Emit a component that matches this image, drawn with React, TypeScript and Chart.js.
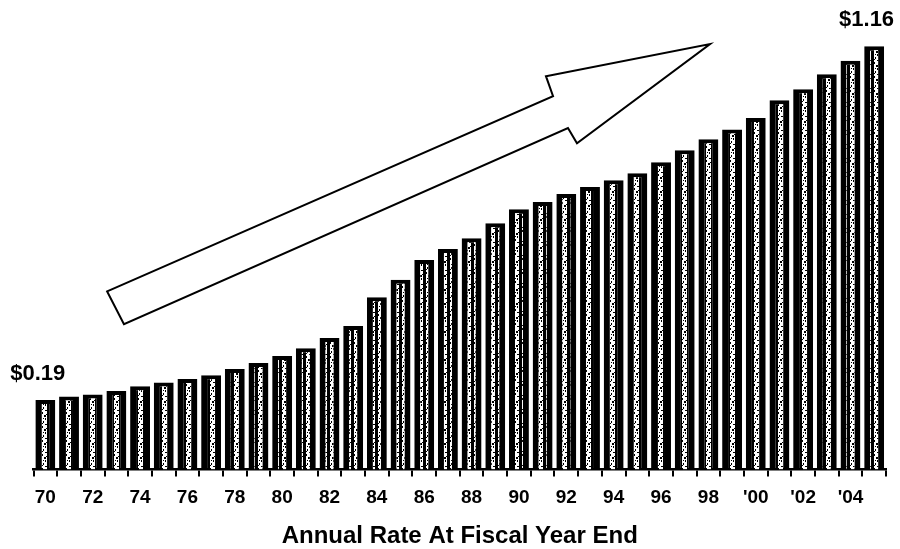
import React, { useEffect, useRef } from "react";
import { Chart, registerables } from "chart.js";

Chart.register(...registerables);

// ---- data ----
const categories: string[] = [
  "70", "71", "72", "73", "74", "75", "76", "77", "78", "79",
  "80", "81", "82", "83", "84", "85", "86", "87", "88", "89",
  "90", "91", "92", "93", "94", "95", "96", "97", "98", "99",
  "'00", "'01", "'02", "'03", "'04", "'05",
];

const rates: number[] = [
  0.19, 0.2, 0.205, 0.215, 0.228, 0.238, 0.248, 0.258, 0.275, 0.292,
  0.311, 0.332, 0.36, 0.393, 0.472, 0.52, 0.574, 0.604, 0.634, 0.675,
  0.713, 0.733, 0.755, 0.774, 0.793, 0.812, 0.842, 0.875, 0.905, 0.932,
  0.963, 1.012, 1.042, 1.083, 1.12, 1.16,
];

const valueLabels: { index: number; text: string }[] = [
  { index: 0, text: "$0.19" },
  { index: 35, text: "$1.16" },
];

const axisTitle = "Annual Rate At Fiscal Year End";

// Decorative arrow outline, in data units: [category index, value]
const arrowShape: [number, number][] = [
  [2.61, 0.488],
  [21.44, 1.023],
  [21.14, 1.078],
  [28.07, 1.166],
  [22.45, 0.894],
  [22.07, 0.936],
  [3.32, 0.398],
];

const Y_MAX = 1.232;

function makeSpecklePattern(): CanvasPattern | string {
  const c = document.createElement("canvas");
  c.width = 8;
  c.height = 14;
  const ctx = c.getContext("2d");
  if (!ctx) return "#ddd";
  ctx.fillStyle = "#ffffff";
  ctx.fillRect(0, 0, 8, 14);
  ctx.fillStyle = "#000000";
  const dots: [number, number, number, number][] = [
    [0, 0, 2, 14], [7, 0, 1, 14],
    [3, 1, 1, 2], [5, 4, 2, 1], [2, 6, 1, 2], [4, 9, 2, 2],
    [3, 12, 1, 1], [5, 12, 1, 2], [2, 3, 1, 1], [6, 8, 1, 1],
  ];
  dots.forEach(([x, y, w, h]) => ctx.fillRect(x, y, w, h));
  const p = ctx.createPattern(c, "repeat");
  return p || "#ddd";
}

const arrowPlugin = {
  id: "arrowDecor",
  afterDatasetsDraw(chart: any) {
    const { ctx, scales } = chart;
    const xs = scales.x;
    const ys = scales.y;
    ctx.save();
    ctx.beginPath();
    arrowShape.forEach(([i, v], k) => {
      const px = xs.getPixelForValue(i);
      const py = ys.getPixelForValue(v);
      if (k === 0) ctx.moveTo(px, py);
      else ctx.lineTo(px, py);
    });
    ctx.closePath();
    ctx.fillStyle = "#ffffff";
    ctx.fill();
    ctx.lineWidth = 2;
    ctx.strokeStyle = "#000000";
    ctx.lineJoin = "miter";
    ctx.stroke();
    ctx.restore();
  },
};

const valueLabelPlugin = {
  id: "valueLabels",
  afterDraw(chart: any) {
    const { ctx } = chart;
    const meta = chart.getDatasetMeta(0);
    ctx.save();
    ctx.font = 'bold 22px "Liberation Sans", Arial, sans-serif';
    ctx.fillStyle = "#000000";
    ctx.textAlign = "right";
    ctx.textBaseline = "bottom";
    valueLabels.forEach(({ index, text }) => {
      const bar = meta.data[index];
      if (!bar) return;
      const props = bar.getProps(["x", "y", "width"], true);
      ctx.fillText(text, props.x + props.width / 2 + 10, props.y - 15);
    });
    ctx.restore();
  },
};

export default function App() {
  const canvasRef = useRef<HTMLCanvasElement | null>(null);

  useEffect(() => {
    const canvas = canvasRef.current;
    if (!canvas) return;
    const pattern = makeSpecklePattern();
    const chart = new Chart(canvas, {
      type: "bar",
      data: {
        labels: categories,
        datasets: [
          {
            data: rates,
            backgroundColor: pattern as any,
            borderColor: "#000000",
            borderWidth: { left: 6, right: 6, top: 4, bottom: 0 } as any,
            borderSkipped: false,
            barPercentage: 0.84,
            categoryPercentage: 1,
          },
        ],
      },
      options: {
        animation: false,
        responsive: true,
        maintainAspectRatio: false,
        layout: { padding: { left: 33.5, right: 14, top: 20, bottom: 0 } },
        plugins: {
          legend: { display: false },
          tooltip: { enabled: false },
        },
        scales: {
          y: {
            display: false,
            min: 0,
            max: Y_MAX,
          },
          x: {
            offset: true,
            grid: {
              offset: true,
              drawOnChartArea: false,
              drawTicks: true,
              tickLength: 7,
              color: "#000000",
              lineWidth: 2,
            },
            border: { display: true, color: "#000000", width: 2.5 },
            ticks: {
              autoSkip: false,
              maxRotation: 0,
              padding: 10,
              color: "#000000",
              font: {
                family: '"Liberation Sans Narrow", "Liberation Sans", Arial, sans-serif',
                size: 19,
                weight: "bold",
              },
              callback: (_v: any, idx: number) => (idx % 2 === 0 ? categories[idx] : ""),
            },
            title: {
              display: true,
              text: axisTitle,
              color: "#000000",
              padding: { top: 3, bottom: -2 },
              font: {
                family: '"Liberation Sans", Arial, sans-serif',
                size: 24,
                weight: "bold",
              },
            },
          },
        },
      },
      plugins: [arrowPlugin, valueLabelPlugin],
    });
    return () => chart.destroy();
  }, []);

  return (
    <div style={{ position: "fixed", left: 0, top: 0, width: 900, height: 549, background: "#fff" }}>
      <canvas ref={canvasRef} />
    </div>
  );
}
